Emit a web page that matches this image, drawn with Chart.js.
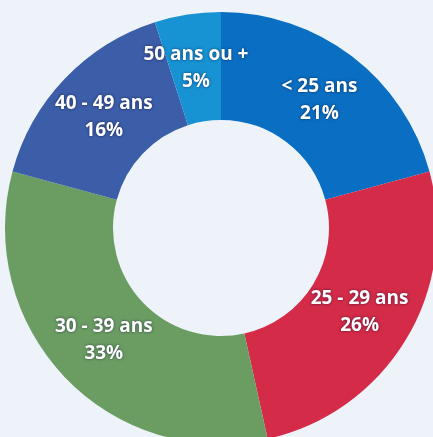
<!DOCTYPE html>
<html>
<head>
<meta charset="utf-8">
<script src="https://cdn.jsdelivr.net/npm/chart.js@4/dist/chart.umd.min.js"></script>
<style>
    html, body {
        margin: 0;
        padding: 0;
        width: 433px;
        height: 437px;
        overflow: hidden;
        background: #edf3f9;
    }
    #wrap {
        position: absolute;
        left: 5px;
        top: 12px;
        width: 432px;
        height: 432px;
    }
</style>
</head>
<body>
<div id="wrap"><canvas id="ageChart"></canvas></div>
<script>
// Tranches d'age
const labels = ['< 25 ans', '25 - 29 ans', '30 - 39 ans', '40 - 49 ans', '50 ans ou +'];
const values = [21, 26, 33, 16, 5];
const colors = ['#0a6fc2', '#d32b48', '#6b9d63', '#3c5da8', '#1792d2'];

// Labels in de ring tekenen
const ringLabels = {
    id: 'ringLabels',
    afterDatasetsDraw(chart) {
        const ctx = chart.ctx;
        const meta = chart.getDatasetMeta(0);
        ctx.save();
        ctx.font = 'bold 19px "Open Sans", sans-serif';
        ctx.fillStyle = '#ffffff';
        ctx.textAlign = 'center';
        ctx.textBaseline = 'middle';
        ctx.shadowColor = 'rgba(0, 0, 40, 0.6)';
        ctx.shadowBlur = 3;
        meta.data.forEach((arc, i) => {
            const pos = arc.tooltipPosition();
            ctx.fillText(labels[i], pos.x, pos.y - 13);
            ctx.fillText(values[i] + '%', pos.x, pos.y + 14);
        });
        ctx.restore();
    }
};

new Chart(document.getElementById('ageChart'), {
    type: 'doughnut',
    data: {
        labels: labels,
        datasets: [{
            data: values,
            backgroundColor: colors,
            borderWidth: 0
        }]
    },
    options: {
        responsive: true,
        maintainAspectRatio: false,
        animation: false,
        cutout: '50%',
        layout: { padding: 0 },
        plugins: {
            legend: { display: false },
            tooltip: { enabled: false }
        }
    },
    plugins: [ringLabels]
});
</script>
</body>
</html>
